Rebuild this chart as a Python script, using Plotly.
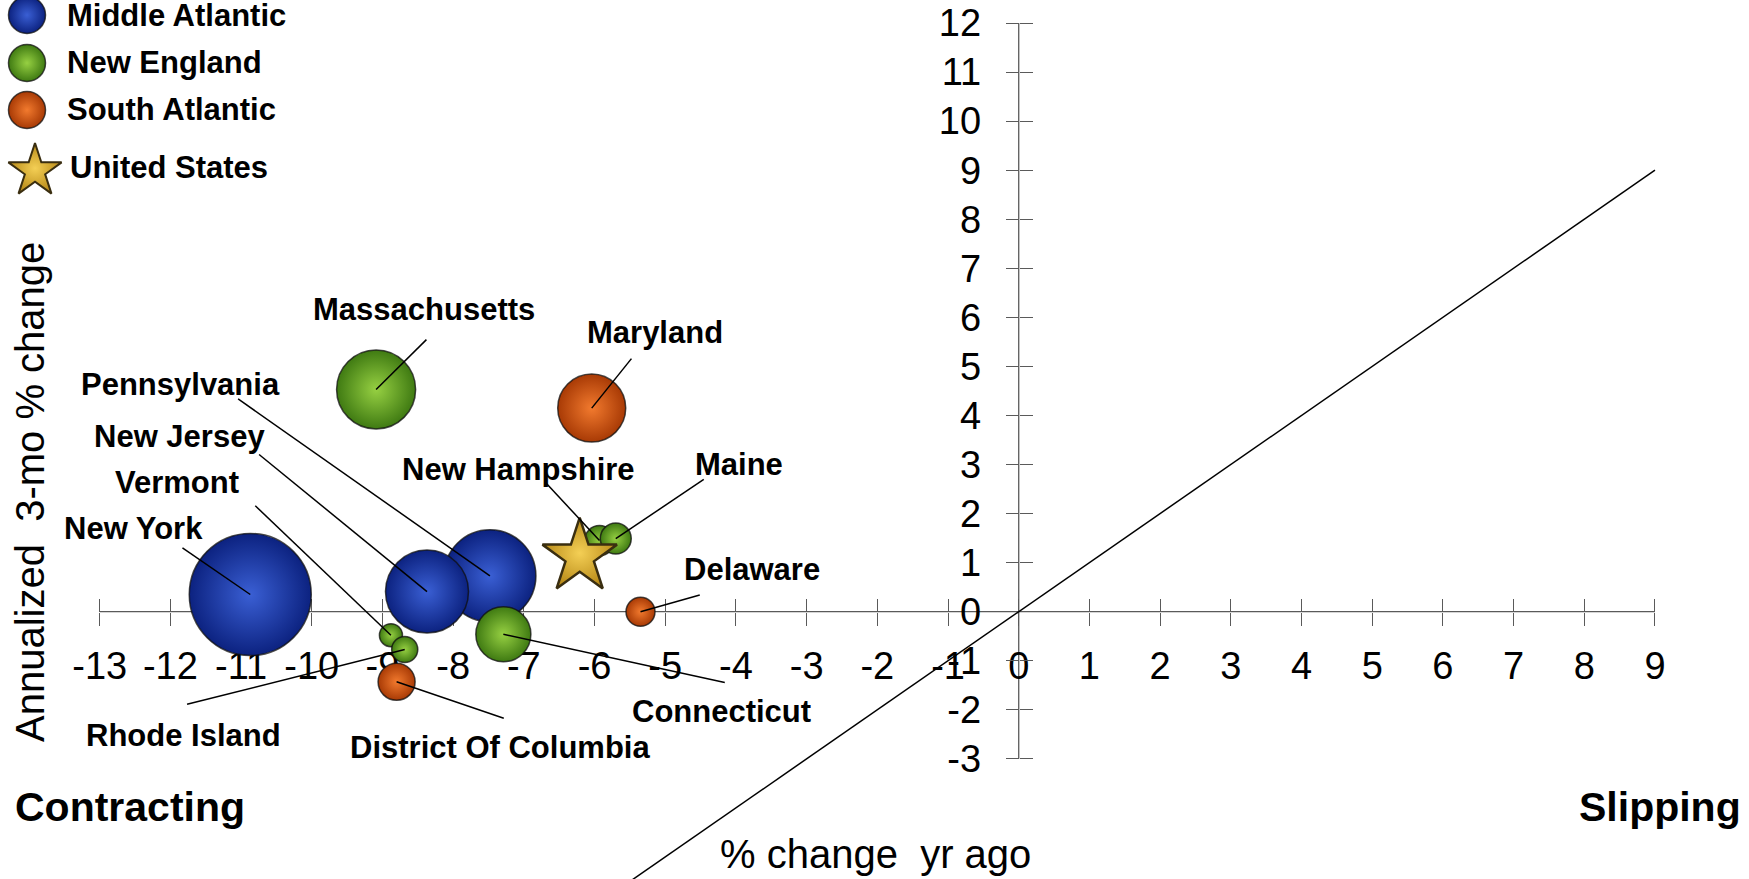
import plotly.graph_objects as go

# ---------------- data ----------------
ma_states = ["Pennsylvania", "New Jersey", "New York"]
ma_yoy = [-7.48, -8.37, -10.87]
ma_3mo = [0.73, 0.41, 0.35]
ma_size = [84.6, 68.9, 148.8]

ne_states = ["Massachusetts", "Connecticut", "Vermont", "Rhode Island", "New Hampshire", "Maine"]
ne_yoy = [-9.09, -7.29, -8.88, -8.685, -5.93, -5.70]
ne_3mo = [4.53, -0.46, -0.48, -0.77, 1.45, 1.49]
ne_size = [62.4, 30.3, 5.3, 6.8, 9.0, 9.6]

sa_states = ["Maryland", "Delaware", "District Of Columbia"]
sa_yoy = [-6.04, -5.35, -8.80]
sa_3mo = [4.15, 0.0, -1.43]
sa_size = [46.2, 8.4, 13.7]

us_name = "United States"
us_yoy = [-6.21]
us_3mo = [1.12]

x_ticks = list(range(-13, 10))
y_ticks = list(range(-3, 13))
ref_line = [-6, 9]          # y = x reference line

legend_names = ["Middle Atlantic", "New England", "South Atlantic", "United States"]

# ---------------- layout helpers ----------------
W, H = 1749, 879
XR = [-14.41, 10.33]
YR = [-5.45, 12.47]

# label text centre and leader-line far end, in data units
label_pos = {
    "Massachusetts": (-8.416, 6.157, -8.378, 5.546),
    "Maryland": (-5.141, 5.682, -5.478, 5.159),
    "Pennsylvania": (-11.86, 4.629, -11.042, 4.338),
    "New Jersey": (-11.874, 3.570, -10.745, 3.204),
    "Vermont": (-11.902, 2.633, -10.799, 2.159),
    "New York": (-12.525, 1.696, -11.829, 1.303),
    "New Hampshire": (-7.082, 2.898, -6.68, 2.613),
    "Maine": (-3.96, 3.0, -4.455, 2.695),
    "Delaware": (-3.777, 0.862, -4.512, 0.338),
    "Connecticut": (-4.201, -2.043, -4.158, -1.446),
    "Rhode Island": (-11.81, -2.519, -11.764, -1.888),
    "District Of Columbia": (-7.341, -2.764, -7.284, -2.173),
}

# (edge colour, centre colour)
BLUE = ("#0c2280", "#3a5fd4")
GREEN = ("#3f7a12", "#96d042")
ORANGE = ("#a83a05", "#f27a2e")
GOLD = ("#b88a18", "#f4cf55")

AX_GRAY = "#5a5a5a"
LABEL_FONT = dict(family="Liberation Sans", size=31, color="black", weight="bold")

fig = go.Figure()

# reference diagonal
fig.add_trace(go.Scatter(x=ref_line, y=ref_line, mode="lines",
                         line=dict(color="black", width=1.5),
                         xaxis="x2", yaxis="y2", showlegend=False, hoverinfo="skip"))


def bubbles(xs, ys, sizes, names, cols):
    return go.Scatter(
        x=xs, y=ys, text=names, mode="markers", showlegend=False,
        marker=dict(size=sizes, sizemode="area", sizeref=0.02,
                    color=cols[0], gradient=dict(type="radial", color=cols[1]),
                    line=dict(color="rgba(15,15,15,0.75)", width=1.5), opacity=1),
        hoverinfo="text")


fig.add_trace(bubbles(ma_yoy, ma_3mo, ma_size, ma_states, BLUE))
fig.add_trace(bubbles(ne_yoy, ne_3mo, ne_size, ne_states, GREEN))
fig.add_trace(bubbles(sa_yoy, sa_3mo, sa_size, sa_states, ORANGE))
fig.add_trace(go.Scatter(
    x=us_yoy, y=us_3mo, mode="markers", showlegend=False, text=[us_name],
    marker=dict(symbol="star", size=56, color=GOLD[0],
                gradient=dict(type="radial", color=GOLD[1]),
                line=dict(color="#3a2e10", width=2.5)),
    hoverinfo="text"))

# axis lines (crossing at zero)
fig.add_shape(type="line", xref="x", yref="y", x0=x_ticks[0], x1=x_ticks[-1], y0=0, y1=0,
              line=dict(color=AX_GRAY, width=1.3), layer="below")
fig.add_shape(type="line", xref="x", yref="y", x0=0, x1=0, y0=y_ticks[0], y1=y_ticks[-1],
              line=dict(color=AX_GRAY, width=1.3), layer="below")

# leader lines + labels
all_states = ma_states + ne_states + sa_states
all_x = ma_yoy + ne_yoy + sa_yoy
all_y = ma_3mo + ne_3mo + sa_3mo
for name, px, py in zip(all_states, all_x, all_y):
    tx, ty, lx, ly = label_pos[name]
    fig.add_shape(type="line", xref="x", yref="y", x0=px, y0=py, x1=lx, y1=ly,
                  line=dict(color="black", width=1.5), layer="above")
    fig.add_annotation(x=tx, y=ty, xref="x", yref="y", text=name, showarrow=False,
                       xanchor="center", yanchor="middle", font=LABEL_FONT)

# custom legend (pixel frame)
leg_cols = [BLUE, GREEN, ORANGE]
leg_px = [27, 27, 27]
leg_py = [15, 63, 110]
for i in range(3):
    fig.add_trace(go.Scatter(
        x=[leg_px[i]], y=[leg_py[i]], mode="markers", xaxis="x3", yaxis="y3",
        showlegend=False, hoverinfo="skip",
        marker=dict(size=37, color=leg_cols[i][0],
                    gradient=dict(type="radial", color=leg_cols[i][1]),
                    line=dict(color="rgba(15,15,15,0.75)", width=1.5))))
    fig.add_annotation(x=65 / W, y=1 - leg_py[i] / H, xref="paper", yref="paper",
                       text=legend_names[i], showarrow=False, xanchor="left",
                       yanchor="middle", font=LABEL_FONT)
fig.add_trace(go.Scatter(
    x=[35], y=[171], mode="markers", xaxis="x3", yaxis="y3", showlegend=False,
    hoverinfo="skip",
    marker=dict(symbol="star", size=40, color=GOLD[0],
                gradient=dict(type="radial", color=GOLD[1]),
                line=dict(color="#3a2e10", width=2))))
fig.add_annotation(x=68 / W, y=1 - 167 / H, xref="paper", yref="paper",
                   text=legend_names[3], showarrow=False, xanchor="left",
                   yanchor="middle", font=LABEL_FONT)

# titles / corner captions
big_reg = dict(family="Liberation Sans", size=40, color="black")
big_bold = dict(family="Liberation Sans", size=41, color="black", weight="bold")
fig.add_annotation(x=876 / W, y=1 - 854 / H, xref="paper", yref="paper",
                   text="% change&nbsp;&nbsp;yr ago", showarrow=False,
                   xanchor="center", yanchor="middle", font=big_reg)
fig.add_annotation(x=30 / W, y=1 - 492 / H, xref="paper", yref="paper",
                   text="Annualized&nbsp;&nbsp;3-mo % change", showarrow=False,
                   textangle=-90, xanchor="center", yanchor="middle", font=big_reg)
fig.add_annotation(x=13 / W, y=1 - 807 / H, xref="paper", yref="paper",
                   text="Contracting", showarrow=False, xanchor="left",
                   yanchor="middle", font=big_bold)
fig.add_annotation(x=1743 / W, y=1 - 807 / H, xref="paper", yref="paper",
                   text="Slipping", showarrow=False, xanchor="right",
                   yanchor="middle", font=big_bold)

xpos = (0 - YR[0]) / (YR[1] - YR[0])
ypos = (0 - XR[0]) / (XR[1] - XR[0])
tick_font = dict(family="Liberation Sans", size=38, color="black")

common = dict(showgrid=False, zeroline=False, showline=False, anchor="free",
              tickcolor=AX_GRAY, tickwidth=1.3, ticklen=13, layer="below traces")

fig.update_layout(
    width=W, height=H, margin=dict(l=0, r=0, t=0, b=0),
    paper_bgcolor="white", plot_bgcolor="white", showlegend=False,
    xaxis=dict(range=XR, tickvals=x_ticks, ticktext=[str(v) for v in x_ticks],
               ticks="outside", position=xpos,
               tickfont=tick_font, ticklabelstandoff=8, **common),
    yaxis=dict(range=YR, tickvals=y_ticks, ticktext=[str(v) for v in y_ticks],
               ticks="outside", position=ypos,
               tickfont=tick_font, ticklabelstandoff=17, **common),
    xaxis2=dict(range=XR, tickvals=x_ticks, ticks="inside", position=xpos,
                overlaying="x", showticklabels=False, **common),
    yaxis2=dict(range=YR, tickvals=y_ticks, ticks="inside", position=ypos,
                overlaying="y", showticklabels=False, **common),
    xaxis3=dict(range=[0, W], overlaying="x", visible=False, anchor="y3"),
    yaxis3=dict(range=[H, 0], overlaying="y", visible=False, anchor="x3"),
)

fig.write_html("out.html", config={"displayModeBar": False},
               post_script="document.body.style.margin='0';"
                           "document.body.style.overflow='hidden';")
